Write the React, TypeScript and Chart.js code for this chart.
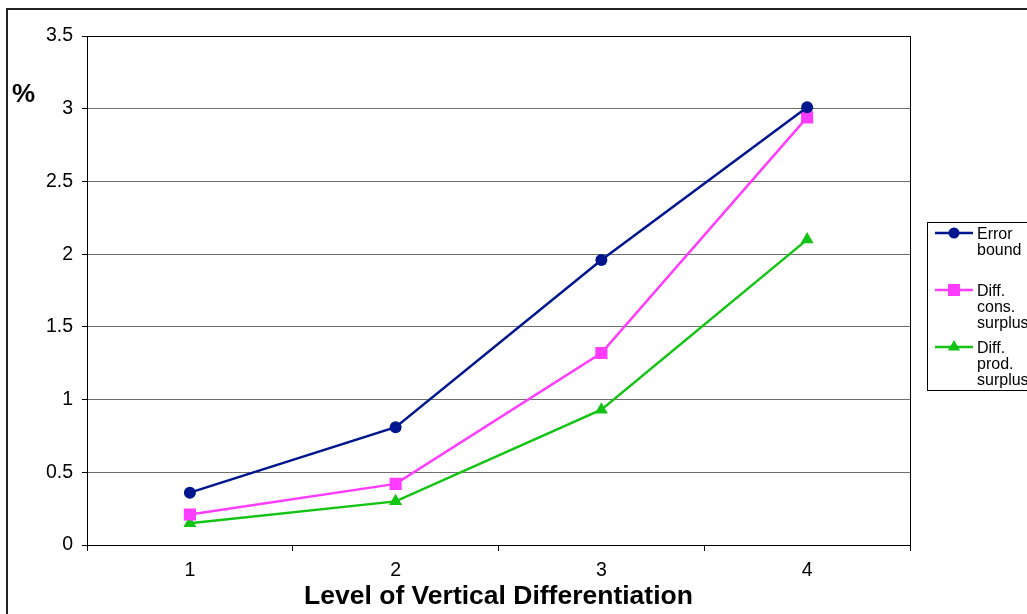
import React, { useEffect, useRef } from "react";
import { Chart, registerables } from "chart.js";

Chart.register(...registerables);

const categories = ["1", "2", "3", "4"];
const errorBound = [0.36, 0.81, 1.96, 3.01];
const diffConsSurplus = [0.21, 0.42, 1.32, 2.94];
const diffProdSurplus = [0.15, 0.3, 0.93, 2.1];
const yTicks = [0, 0.5, 1, 1.5, 2, 2.5, 3, 3.5];

const BLUE = "#00168f";
const PINK = "#ff3cff";
const GREEN = "#14c414";
const FONT = "'Liberation Sans', Arial, sans-serif";

const legendItems = [
  { lines: ["Error", "bound"], color: BLUE, style: "circle" },
  { lines: ["Diff.", "cons.", "surplus"], color: PINK, style: "rect" },
  { lines: ["Diff.", "prod.", "surplus"], color: GREEN, style: "triangle" },
];

function drawMarker(ctx: CanvasRenderingContext2D, style: string, x: number, y: number, color: string) {
  ctx.save();
  ctx.fillStyle = color;
  ctx.beginPath();
  if (style === "circle") {
    ctx.arc(x, y, 5.5, 0, Math.PI * 2);
  } else if (style === "rect") {
    ctx.rect(x - 6, y - 6, 12, 12);
  } else {
    const r = 7;
    ctx.moveTo(x, y - r);
    ctx.lineTo(x + r * 0.866, y + r * 0.5);
    ctx.lineTo(x - r * 0.866, y + r * 0.5);
    ctx.closePath();
  }
  ctx.fill();
  ctx.restore();
}

const decorPlugin = {
  id: "decor",
  afterDraw(chart: any) {
    const ctx: CanvasRenderingContext2D = chart.ctx;
    const a = chart.chartArea;
    ctx.save();
    ctx.strokeStyle = "#000";
    ctx.lineWidth = 1;
    ctx.beginPath();
    ctx.moveTo(Math.round(a.right) + 0.5, a.top);
    ctx.lineTo(Math.round(a.right) + 0.5, a.bottom);
    ctx.stroke();
    ctx.lineWidth = 2;
    ctx.strokeStyle = "#222";
    ctx.strokeRect(7, 9, 1200, 800);
    ctx.fillStyle = "#000";
    ctx.font = `bold 26px ${FONT}`;
    ctx.textAlign = "center";
    ctx.textBaseline = "middle";
    ctx.fillText("%", 23.5, 95);
    ctx.lineWidth = 1;
    ctx.strokeStyle = "#000";
    ctx.strokeRect(927.5, 222.5, 200, 168);
    const ys = [233, 290, 347];
    ctx.font = `16px ${FONT}`;
    ctx.textAlign = "left";
    legendItems.forEach((it, i) => {
      const y = ys[i];
      ctx.strokeStyle = it.color;
      ctx.lineWidth = 2.5;
      ctx.beginPath();
      ctx.moveTo(935, y);
      ctx.lineTo(973, y);
      ctx.stroke();
      drawMarker(ctx, it.style, 954, y, it.color);
      ctx.fillStyle = "#000";
      it.lines.forEach((t, j) => ctx.fillText(t, 977, y + 1.5 + j * 16));
    });
    ctx.restore();
  },
};

export default function App() {
  const ref = useRef<HTMLCanvasElement>(null);
  useEffect(() => {
    if (!ref.current) return;
    const chart = new Chart(ref.current, {
      type: "line",
      data: {
        labels: categories,
        datasets: [
          {
            label: "Error bound",
            data: errorBound,
            borderColor: BLUE,
            backgroundColor: BLUE,
            borderWidth: 2.5,
            pointStyle: "circle",
            pointRadius: 6,
            pointBorderWidth: 0,
          },
          {
            label: "Diff. cons. surplus",
            data: diffConsSurplus,
            borderColor: PINK,
            backgroundColor: PINK,
            borderWidth: 2.5,
            pointStyle: "rect",
            pointRadius: 8.6,
            pointBorderWidth: 0,
          },
          {
            label: "Diff. prod. surplus",
            data: diffProdSurplus,
            borderColor: GREEN,
            backgroundColor: GREEN,
            borderWidth: 2.5,
            pointStyle: "triangle",
            pointRadius: 7.5,
            pointBorderWidth: 0,
          },
        ],
      },
      options: {
        animation: false,
        responsive: false,
        layout: { padding: { left: 0, top: 36, right: 117, bottom: 0 } },
        plugins: { legend: { display: false }, tooltip: { enabled: false } },
        scales: {
          x: {
            offset: true,
            afterFit: (s: any) => {
              s.height = 69;
            },
            grid: {
              offset: true,
              drawOnChartArea: false,
              tickLength: 6,
              color: "#000",
              tickColor: "#000",
            },
            border: { color: "#000", width: 1 },
            ticks: {
              color: "#000",
              font: { family: FONT, size: 19.5 },
              padding: 8,
              maxRotation: 0,
              minRotation: 0,
            },
            title: {
              display: true,
              text: "Level of Vertical Differentiation",
              color: "#000",
              font: { family: FONT, size: 26.5, weight: "bold" },
              padding: { top: 0, bottom: 1 },
            },
          },
          y: {
            min: 0,
            max: 3.5,
            afterFit: (s: any) => {
              s.width = 87;
            },
            afterBuildTicks: (s: any) => {
              s.ticks = yTicks.map((v) => ({ value: v }));
            },
            grid: {
              color: (c: any) => (c.tick && c.tick.value === 3.5 ? "#000" : "#6e6e6e"),
              tickColor: "#000",
              tickLength: 5,
            },
            border: { color: "#000", width: 1 },
            ticks: {
              color: "#000",
              font: { family: FONT, size: 19.5 },
              padding: 9,
              callback: (v: any) => String(v),
            },
          },
        },
      },
      plugins: [decorPlugin],
    });
    return () => chart.destroy();
  }, []);
  return (
    <div style={{ position: "absolute", left: 0, top: 0, width: 1027, height: 614, background: "#fff" }}>
      <canvas ref={ref} width={1027} height={614} style={{ display: "block" }} />
    </div>
  );
}
